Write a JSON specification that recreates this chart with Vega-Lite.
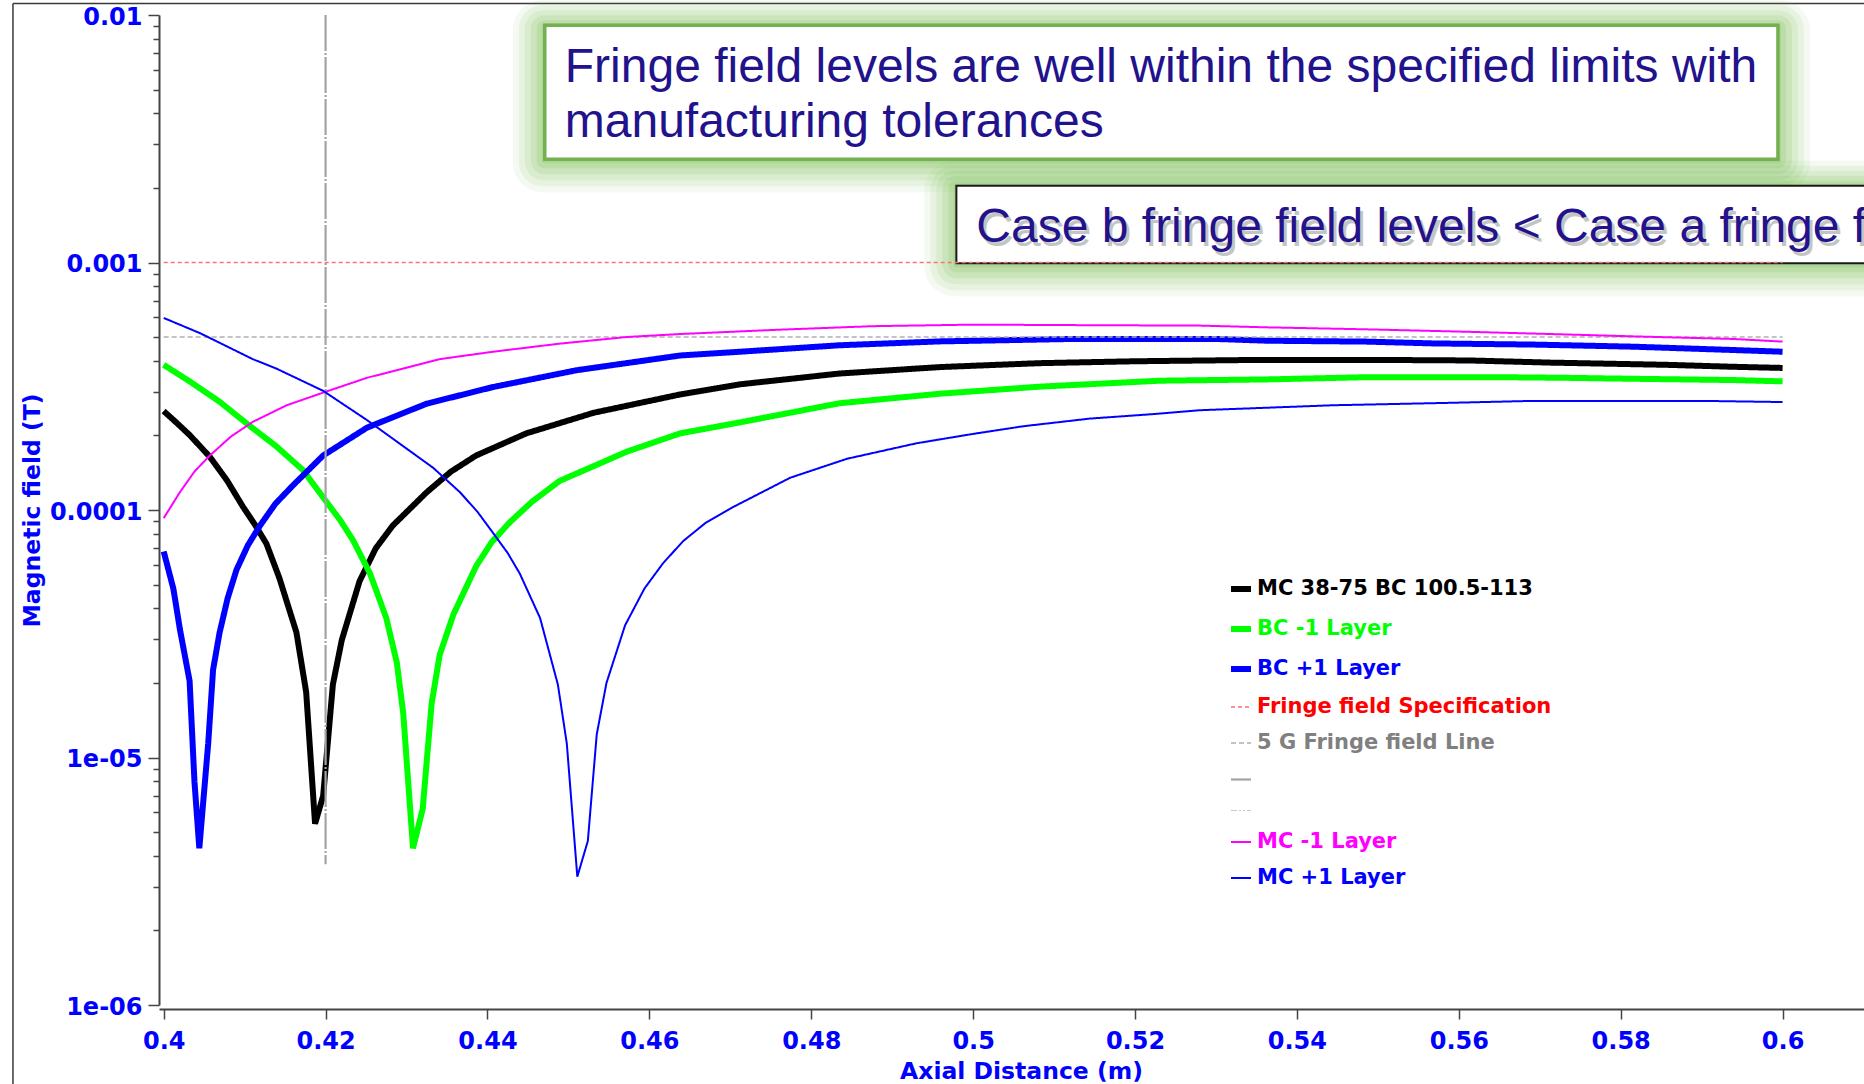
{
  "$schema": "https://vega.github.io/schema/vega-lite/v6.json",
  "width": 1705,
  "height": 990,
  "padding": {"left": 159, "top": 15, "right": 0, "bottom": 79},
  "autosize": {"type": "none"},
  "background": "white",
  "config": {"view": {"stroke": null}, "font": "DejaVu Sans"},
  "datasets": {
    "frame": [
      {"x": 0.38138, "y": 0.011119, "x2": 0.38138, "y2": 4.8e-7},
      {"x": 0.38138, "y": 0.011119, "x2": 0.62, "y2": 0.011119}
    ],
    "boxes": [
      {"box": "a", "x": 0.44708, "x2": 0.59943, "y": 0.009085, "y2": 0.002615},
      {"box": "b", "x": 0.49793, "x2": 0.62, "y": 0.00204, "y2": 0.000992}
    ],
    "notes": [
      {"box": "a", "text": "Fringe field levels are well within the specified limits with", "x": 0.44955, "y": 0.005364},
      {"box": "a", "text": "manufacturing tolerances", "x": 0.44955, "y": 0.003209},
      {"box": "b", "text": "Case b fringe field levels < Case a fringe field levels", "x": 0.5004, "y": 0.001212}
    ],
    "curves": [
      {"s": "MC 38-75 BC 100.5-113", "x": 0.4, "y": 2.51e-4},
      {"s": "MC 38-75 BC 100.5-113", "x": 0.4016, "y": 2.25e-4},
      {"s": "MC 38-75 BC 100.5-113", "x": 0.4032, "y": 2.01e-4},
      {"s": "MC 38-75 BC 100.5-113", "x": 0.4057, "y": 1.64e-4},
      {"s": "MC 38-75 BC 100.5-113", "x": 0.4078, "y": 1.32e-4},
      {"s": "MC 38-75 BC 100.5-113", "x": 0.4098, "y": 1.03e-4},
      {"s": "MC 38-75 BC 100.5-113", "x": 0.4113, "y": 8.7e-5},
      {"s": "MC 38-75 BC 100.5-113", "x": 0.4127, "y": 7.3e-5},
      {"s": "MC 38-75 BC 100.5-113", "x": 0.4143, "y": 5.3e-5},
      {"s": "MC 38-75 BC 100.5-113", "x": 0.4164, "y": 3.2e-5},
      {"s": "MC 38-75 BC 100.5-113", "x": 0.4176, "y": 1.84e-5},
      {"s": "MC 38-75 BC 100.5-113", "x": 0.4187, "y": 5.4e-6},
      {"s": "MC 38-75 BC 100.5-113", "x": 0.4197, "y": 7.0e-6},
      {"s": "MC 38-75 BC 100.5-113", "x": 0.4209, "y": 1.97e-5},
      {"s": "MC 38-75 BC 100.5-113", "x": 0.422, "y": 2.98e-5},
      {"s": "MC 38-75 BC 100.5-113", "x": 0.4242, "y": 5.16e-5},
      {"s": "MC 38-75 BC 100.5-113", "x": 0.4262, "y": 7.0e-5},
      {"s": "MC 38-75 BC 100.5-113", "x": 0.4283, "y": 8.65e-5},
      {"s": "MC 38-75 BC 100.5-113", "x": 0.4325, "y": 1.18e-4},
      {"s": "MC 38-75 BC 100.5-113", "x": 0.4355, "y": 1.43e-4},
      {"s": "MC 38-75 BC 100.5-113", "x": 0.4386, "y": 1.66e-4},
      {"s": "MC 38-75 BC 100.5-113", "x": 0.4448, "y": 2.04e-4},
      {"s": "MC 38-75 BC 100.5-113", "x": 0.4531, "y": 2.47e-4},
      {"s": "MC 38-75 BC 100.5-113", "x": 0.4638, "y": 2.93e-4},
      {"s": "MC 38-75 BC 100.5-113", "x": 0.4712, "y": 3.22e-4},
      {"s": "MC 38-75 BC 100.5-113", "x": 0.4835, "y": 3.56e-4},
      {"s": "MC 38-75 BC 100.5-113", "x": 0.4959, "y": 3.78e-4},
      {"s": "MC 38-75 BC 100.5-113", "x": 0.5082, "y": 3.92e-4},
      {"s": "MC 38-75 BC 100.5-113", "x": 0.52, "y": 3.99e-4},
      {"s": "MC 38-75 BC 100.5-113", "x": 0.535, "y": 4.04e-4},
      {"s": "MC 38-75 BC 100.5-113", "x": 0.55, "y": 4.04e-4},
      {"s": "MC 38-75 BC 100.5-113", "x": 0.5613, "y": 4.02e-4},
      {"s": "MC 38-75 BC 100.5-113", "x": 0.5713, "y": 3.94e-4},
      {"s": "MC 38-75 BC 100.5-113", "x": 0.5857, "y": 3.86e-4},
      {"s": "MC 38-75 BC 100.5-113", "x": 0.5939, "y": 3.79e-4},
      {"s": "MC 38-75 BC 100.5-113", "x": 0.6, "y": 3.75e-4},
      {"s": "BC -1 Layer", "x": 0.4, "y": 3.86e-4},
      {"s": "BC -1 Layer", "x": 0.4032, "y": 3.31e-4},
      {"s": "BC -1 Layer", "x": 0.4069, "y": 2.74e-4},
      {"s": "BC -1 Layer", "x": 0.4106, "y": 2.19e-4},
      {"s": "BC -1 Layer", "x": 0.4139, "y": 1.81e-4},
      {"s": "BC -1 Layer", "x": 0.4172, "y": 1.45e-4},
      {"s": "BC -1 Layer", "x": 0.4201, "y": 1.08e-4},
      {"s": "BC -1 Layer", "x": 0.4218, "y": 9.1e-5},
      {"s": "BC -1 Layer", "x": 0.4234, "y": 7.54e-5},
      {"s": "BC -1 Layer", "x": 0.4255, "y": 5.53e-5},
      {"s": "BC -1 Layer", "x": 0.4275, "y": 3.66e-5},
      {"s": "BC -1 Layer", "x": 0.4288, "y": 2.42e-5},
      {"s": "BC -1 Layer", "x": 0.4296, "y": 1.5e-5},
      {"s": "BC -1 Layer", "x": 0.4308, "y": 4.3e-6},
      {"s": "BC -1 Layer", "x": 0.432, "y": 6.2e-6},
      {"s": "BC -1 Layer", "x": 0.4331, "y": 1.65e-5},
      {"s": "BC -1 Layer", "x": 0.4341, "y": 2.6e-5},
      {"s": "BC -1 Layer", "x": 0.4358, "y": 3.79e-5},
      {"s": "BC -1 Layer", "x": 0.4386, "y": 5.93e-5},
      {"s": "BC -1 Layer", "x": 0.4405, "y": 7.4e-5},
      {"s": "BC -1 Layer", "x": 0.4428, "y": 8.95e-5},
      {"s": "BC -1 Layer", "x": 0.4455, "y": 1.08e-4},
      {"s": "BC -1 Layer", "x": 0.4489, "y": 1.31e-4},
      {"s": "BC -1 Layer", "x": 0.4572, "y": 1.72e-4},
      {"s": "BC -1 Layer", "x": 0.4638, "y": 2.04e-4},
      {"s": "BC -1 Layer", "x": 0.4712, "y": 2.26e-4},
      {"s": "BC -1 Layer", "x": 0.4835, "y": 2.7e-4},
      {"s": "BC -1 Layer", "x": 0.4959, "y": 2.95e-4},
      {"s": "BC -1 Layer", "x": 0.5082, "y": 3.15e-4},
      {"s": "BC -1 Layer", "x": 0.5231, "y": 3.33e-4},
      {"s": "BC -1 Layer", "x": 0.5363, "y": 3.37e-4},
      {"s": "BC -1 Layer", "x": 0.5486, "y": 3.44e-4},
      {"s": "BC -1 Layer", "x": 0.5651, "y": 3.44e-4},
      {"s": "BC -1 Layer", "x": 0.5733, "y": 3.42e-4},
      {"s": "BC -1 Layer", "x": 0.5815, "y": 3.39e-4},
      {"s": "BC -1 Layer", "x": 0.5939, "y": 3.35e-4},
      {"s": "BC -1 Layer", "x": 0.6, "y": 3.31e-4},
      {"s": "BC +1 Layer", "x": 0.4, "y": 6.8e-5},
      {"s": "BC +1 Layer", "x": 0.4012, "y": 4.8e-5},
      {"s": "BC +1 Layer", "x": 0.402, "y": 3.3e-5},
      {"s": "BC +1 Layer", "x": 0.4032, "y": 2.04e-5},
      {"s": "BC +1 Layer", "x": 0.4038, "y": 8.0e-6},
      {"s": "BC +1 Layer", "x": 0.4044, "y": 4.3e-6},
      {"s": "BC +1 Layer", "x": 0.4051, "y": 8.0e-6},
      {"s": "BC +1 Layer", "x": 0.4055, "y": 1.14e-5},
      {"s": "BC +1 Layer", "x": 0.4061, "y": 2.26e-5},
      {"s": "BC +1 Layer", "x": 0.4069, "y": 3.19e-5},
      {"s": "BC +1 Layer", "x": 0.4079, "y": 4.4e-5},
      {"s": "BC +1 Layer", "x": 0.409, "y": 5.74e-5},
      {"s": "BC +1 Layer", "x": 0.4104, "y": 7.2e-5},
      {"s": "BC +1 Layer", "x": 0.4119, "y": 8.65e-5},
      {"s": "BC +1 Layer", "x": 0.4138, "y": 1.06e-4},
      {"s": "BC +1 Layer", "x": 0.416, "y": 1.26e-4},
      {"s": "BC +1 Layer", "x": 0.4197, "y": 1.66e-4},
      {"s": "BC +1 Layer", "x": 0.4251, "y": 2.15e-4},
      {"s": "BC +1 Layer", "x": 0.4325, "y": 2.69e-4},
      {"s": "BC +1 Layer", "x": 0.4407, "y": 3.14e-4},
      {"s": "BC +1 Layer", "x": 0.451, "y": 3.67e-4},
      {"s": "BC +1 Layer", "x": 0.4638, "y": 4.21e-4},
      {"s": "BC +1 Layer", "x": 0.4712, "y": 4.36e-4},
      {"s": "BC +1 Layer", "x": 0.4835, "y": 4.63e-4},
      {"s": "BC +1 Layer", "x": 0.4959, "y": 4.8e-4},
      {"s": "BC +1 Layer", "x": 0.5123, "y": 4.91e-4},
      {"s": "BC +1 Layer", "x": 0.53, "y": 4.91e-4},
      {"s": "BC +1 Layer", "x": 0.5363, "y": 4.83e-4},
      {"s": "BC +1 Layer", "x": 0.5486, "y": 4.79e-4},
      {"s": "BC +1 Layer", "x": 0.5569, "y": 4.71e-4},
      {"s": "BC +1 Layer", "x": 0.5692, "y": 4.66e-4},
      {"s": "BC +1 Layer", "x": 0.5815, "y": 4.57e-4},
      {"s": "BC +1 Layer", "x": 0.5939, "y": 4.43e-4},
      {"s": "BC +1 Layer", "x": 0.6, "y": 4.36e-4},
      {"s": "Fringe field Specification", "x": 0.4, "y": 0.001},
      {"s": "Fringe field Specification", "x": 0.6, "y": 0.001},
      {"s": "5 G Fringe field Line", "x": 0.4, "y": 5e-4},
      {"s": "5 G Fringe field Line", "x": 0.6, "y": 5e-4},
      {"s": "Marker 0.42 m", "x": 0.42, "y": 0.01},
      {"s": "Marker 0.42 m", "x": 0.42, "y": 3.7e-6},
      {"s": "MC -1 Layer", "x": 0.4, "y": 9.27e-5},
      {"s": "MC -1 Layer", "x": 0.402, "y": 1.18e-4},
      {"s": "MC -1 Layer", "x": 0.4038, "y": 1.43e-4},
      {"s": "MC -1 Layer", "x": 0.4057, "y": 1.66e-4},
      {"s": "MC -1 Layer", "x": 0.4083, "y": 1.98e-4},
      {"s": "MC -1 Layer", "x": 0.411, "y": 2.27e-4},
      {"s": "MC -1 Layer", "x": 0.4152, "y": 2.65e-4},
      {"s": "MC -1 Layer", "x": 0.4197, "y": 2.98e-4},
      {"s": "MC -1 Layer", "x": 0.4251, "y": 3.42e-4},
      {"s": "MC -1 Layer", "x": 0.4341, "y": 4.07e-4},
      {"s": "MC -1 Layer", "x": 0.4407, "y": 4.36e-4},
      {"s": "MC -1 Layer", "x": 0.4489, "y": 4.7e-4},
      {"s": "MC -1 Layer", "x": 0.4572, "y": 5.0e-4},
      {"s": "MC -1 Layer", "x": 0.4638, "y": 5.14e-4},
      {"s": "MC -1 Layer", "x": 0.4753, "y": 5.34e-4},
      {"s": "MC -1 Layer", "x": 0.4876, "y": 5.53e-4},
      {"s": "MC -1 Layer", "x": 0.5, "y": 5.61e-4},
      {"s": "MC -1 Layer", "x": 0.5148, "y": 5.58e-4},
      {"s": "MC -1 Layer", "x": 0.528, "y": 5.56e-4},
      {"s": "MC -1 Layer", "x": 0.5363, "y": 5.47e-4},
      {"s": "MC -1 Layer", "x": 0.5486, "y": 5.37e-4},
      {"s": "MC -1 Layer", "x": 0.561, "y": 5.25e-4},
      {"s": "MC -1 Layer", "x": 0.5733, "y": 5.12e-4},
      {"s": "MC -1 Layer", "x": 0.5815, "y": 5.03e-4},
      {"s": "MC -1 Layer", "x": 0.5939, "y": 4.91e-4},
      {"s": "MC -1 Layer", "x": 0.6, "y": 4.79e-4},
      {"s": "MC +1 Layer", "x": 0.4, "y": 5.97e-4},
      {"s": "MC +1 Layer", "x": 0.4045, "y": 5.18e-4},
      {"s": "MC +1 Layer", "x": 0.411, "y": 4.07e-4},
      {"s": "MC +1 Layer", "x": 0.4139, "y": 3.73e-4},
      {"s": "MC +1 Layer", "x": 0.4197, "y": 3.03e-4},
      {"s": "MC +1 Layer", "x": 0.4251, "y": 2.31e-4},
      {"s": "MC +1 Layer", "x": 0.4296, "y": 1.81e-4},
      {"s": "MC +1 Layer", "x": 0.4333, "y": 1.48e-4},
      {"s": "MC +1 Layer", "x": 0.4366, "y": 1.18e-4},
      {"s": "MC +1 Layer", "x": 0.4388, "y": 9.8e-5},
      {"s": "MC +1 Layer", "x": 0.4407, "y": 8.07e-5},
      {"s": "MC +1 Layer", "x": 0.4425, "y": 6.7e-5},
      {"s": "MC +1 Layer", "x": 0.444, "y": 5.53e-5},
      {"s": "MC +1 Layer", "x": 0.4465, "y": 3.66e-5},
      {"s": "MC +1 Layer", "x": 0.4487, "y": 1.97e-5},
      {"s": "MC +1 Layer", "x": 0.4498, "y": 1.14e-5},
      {"s": "MC +1 Layer", "x": 0.4511, "y": 3.3e-6},
      {"s": "MC +1 Layer", "x": 0.4524, "y": 4.6e-6},
      {"s": "MC +1 Layer", "x": 0.4535, "y": 1.24e-5},
      {"s": "MC +1 Layer", "x": 0.4547, "y": 2.0e-5},
      {"s": "MC +1 Layer", "x": 0.457, "y": 3.42e-5},
      {"s": "MC +1 Layer", "x": 0.4594, "y": 4.82e-5},
      {"s": "MC +1 Layer", "x": 0.4617, "y": 6.1e-5},
      {"s": "MC +1 Layer", "x": 0.4642, "y": 7.5e-5},
      {"s": "MC +1 Layer", "x": 0.467, "y": 8.9e-5},
      {"s": "MC +1 Layer", "x": 0.4704, "y": 1.03e-4},
      {"s": "MC +1 Layer", "x": 0.4774, "y": 1.35e-4},
      {"s": "MC +1 Layer", "x": 0.4844, "y": 1.61e-4},
      {"s": "MC +1 Layer", "x": 0.493, "y": 1.86e-4},
      {"s": "MC +1 Layer", "x": 0.5, "y": 2.03e-4},
      {"s": "MC +1 Layer", "x": 0.5062, "y": 2.18e-4},
      {"s": "MC +1 Layer", "x": 0.5144, "y": 2.34e-4},
      {"s": "MC +1 Layer", "x": 0.5222, "y": 2.44e-4},
      {"s": "MC +1 Layer", "x": 0.528, "y": 2.53e-4},
      {"s": "MC +1 Layer", "x": 0.5445, "y": 2.65e-4},
      {"s": "MC +1 Layer", "x": 0.5589, "y": 2.71e-4},
      {"s": "MC +1 Layer", "x": 0.5692, "y": 2.76e-4},
      {"s": "MC +1 Layer", "x": 0.59, "y": 2.76e-4},
      {"s": "MC +1 Layer", "x": 0.6, "y": 2.73e-4}
    ]
  },
  "encoding": {
    "x": {
      "field": "x",
      "type": "quantitative",
      "title": "Axial Distance (m)",
      "scale": {"domain": [0.39942, 0.61006], "nice": false, "zero": false},
      "axis": {
        "values": [0.4, 0.42, 0.44, 0.46, 0.48, 0.5, 0.52, 0.54, 0.56, 0.58, 0.6],
        "format": "~g",
        "offset": 4,
        "grid": false,
        "tickSize": 10,
        "tickColor": "#444444",
        "tickWidth": 1.5,
        "domainColor": "#444444",
        "domainWidth": 2,
        "labelFont": "DejaVu Sans",
        "labelFontWeight": "bold",
        "labelFontSize": 24,
        "labelColor": "#0000ff",
        "labelBaseline": "alphabetic",
        "labelPadding": 29,
        "labelFlush": false,
        "labelOverlap": false,
        "titleFont": "DejaVu Sans",
        "titleFontWeight": "bold",
        "titleFontSize": 23.5,
        "titleColor": "#0000ff",
        "titleX": 862,
        "titleY": 69,
        "titleBaseline": "alphabetic",
        "titleAlign": "center"
      }
    },
    "y": {
      "field": "y",
      "type": "quantitative",
      "title": "Magnetic field (T)",
      "scale": {"type": "log", "domain": [1e-6, 0.01], "nice": false},
      "axis": {
        "values": [1e-6, 2e-6, 3e-6, 4e-6, 5e-6, 6e-6, 7e-6, 8e-6, 9e-6, 1e-5, 2e-5, 3e-5, 4e-5, 5e-5, 6e-5, 7e-5, 8e-5, 9e-5, 1e-4, 2e-4, 3e-4, 4e-4, 5e-4, 6e-4, 7e-4, 8e-4, 9e-4, 0.001, 0.002, 0.003, 0.004, 0.005, 0.006, 0.007, 0.008, 0.009, 0.01],
        "labelExpr": "datum.value === 0.01 ? '0.01' : datum.value === 0.001 ? '0.001' : datum.value === 0.0001 ? '0.0001' : datum.value === 0.00001 ? '1e-05' : datum.value === 0.000001 ? '1e-06' : ''",
        "tickSize": {"condition": {"test": "datum.value === 0.01 || datum.value === 0.001 || datum.value === 0.0001 || datum.value === 0.00001 || datum.value === 0.000001", "value": 11}, "value": 6},
        "grid": false,
        "tickColor": "#444444",
        "tickWidth": 1.5,
        "domainColor": "#444444",
        "domainWidth": 2,
        "labelFont": "DejaVu Sans",
        "labelFontWeight": "bold",
        "labelFontSize": 24,
        "labelColor": "#0000ff",
        "labelPadding": 6,
        "labelOffset": 2,
        "labelFlush": false,
        "labelOverlap": false,
        "titleFont": "DejaVu Sans",
        "titleFontWeight": "bold",
        "titleFontSize": 23.5,
        "titleColor": "#0000ff",
        "titleX": -127,
        "titleY": 495,
        "titleAngle": 270,
        "titleBaseline": "middle",
        "titleAlign": "center"
      }
    }
  },
  "layer": [
    {
      "data": {"name": "frame"},
      "mark": {"type": "rule", "color": "#3a3a3a", "strokeWidth": 1.5, "clip": false},
      "encoding": {"x2": {"field": "x2"}, "y2": {"field": "y2"}}
    },
    {
      "data": {"name": "boxes"},
      "mark": {"type": "rect", "fill": "#78bd52", "opacity": 0.08, "cornerRadius": 30, "xOffset": -32, "x2Offset": 32, "yOffset": -25, "y2Offset": 33, "clip": false},
      "encoding": {"x2": {"field": "x2"}, "y2": {"field": "y2"}}
    },
    {
      "data": {"name": "boxes"},
      "mark": {"type": "rect", "fill": "#78bd52", "opacity": 0.1, "cornerRadius": 24, "xOffset": -26, "x2Offset": 26, "yOffset": -20, "y2Offset": 27, "clip": false},
      "encoding": {"x2": {"field": "x2"}, "y2": {"field": "y2"}}
    },
    {
      "data": {"name": "boxes"},
      "mark": {"type": "rect", "fill": "#78bd52", "opacity": 0.12, "cornerRadius": 19, "xOffset": -20, "x2Offset": 20, "yOffset": -15, "y2Offset": 21, "clip": false},
      "encoding": {"x2": {"field": "x2"}, "y2": {"field": "y2"}}
    },
    {
      "data": {"name": "boxes"},
      "mark": {"type": "rect", "fill": "#78bd52", "opacity": 0.15, "cornerRadius": 14, "xOffset": -14, "x2Offset": 14, "yOffset": -10, "y2Offset": 15, "clip": false},
      "encoding": {"x2": {"field": "x2"}, "y2": {"field": "y2"}}
    },
    {
      "data": {"name": "boxes"},
      "mark": {"type": "rect", "fill": "#78bd52", "opacity": 0.18, "cornerRadius": 8, "xOffset": -8, "x2Offset": 8, "yOffset": -5, "y2Offset": 9, "clip": false},
      "encoding": {"x2": {"field": "x2"}, "y2": {"field": "y2"}}
    },
    {
      "data": {"name": "boxes"},
      "mark": {"type": "rect", "fill": "#78bd52", "opacity": 0.22, "cornerRadius": 3, "xOffset": -3, "x2Offset": 3, "yOffset": -2, "y2Offset": 4, "clip": false},
      "encoding": {"x2": {"field": "x2"}, "y2": {"field": "y2"}}
    },
    {
      "data": {"name": "boxes"},
      "mark": {"type": "rect", "fill": "white", "clip": false},
      "encoding": {
        "x2": {"field": "x2"},
        "y2": {"field": "y2"},
        "stroke": {"condition": {"test": "datum.box === 'a'", "value": "#74b04e"}, "value": "#1a1a1a"},
        "strokeWidth": {"condition": {"test": "datum.box === 'a'", "value": 3.5}, "value": 2}
      }
    },
    {
      "data": {"name": "notes"},
      "transform": [{"filter": "datum.box === 'b'"}],
      "mark": {"type": "text", "align": "left", "baseline": "alphabetic", "font": "Liberation Sans", "fontSize": 48, "color": "#8a8a8a", "opacity": 0.5, "dx": 3, "dy": 4, "clip": false},
      "encoding": {"text": {"field": "text"}}
    },
    {
      "data": {"name": "notes"},
      "mark": {"type": "text", "align": "left", "baseline": "alphabetic", "font": "Liberation Sans", "fontSize": 48, "color": "#22138c", "clip": false},
      "encoding": {"text": {"field": "text"}}
    },
    {
      "data": {"name": "curves"},
      "mark": {"type": "line", "strokeJoin": "bevel", "strokeCap": "butt", "clip": false},
      "encoding": {
        "color": {
          "field": "s",
          "type": "nominal",
          "scale": {
            "domain": ["MC 38-75 BC 100.5-113", "BC -1 Layer", "BC +1 Layer", "Fringe field Specification", "5 G Fringe field Line", "Marker 0.42 m", "Unused", "MC -1 Layer", "MC +1 Layer"],
            "range": ["#000000", "#00ff00", "#0000ff", "#ff7070", "#b0b0b0", "#a4a4a4", "#c8c8c8", "#ff00ff", "#0000ff"]
          },
          "legend": {
            "title": null,
            "orient": "none",
            "legendX": 1069,
            "legendY": 561,
            "symbolType": "stroke",
            "symbolSize": 400,
            "labelFont": "DejaVu Sans",
            "labelFontWeight": "bold",
            "labelFontSize": 21,
            "labelLimit": 0,
            "labelOffset": 3,
            "rowPadding": 15,
            "labelExpr": "datum.value === 'Marker 0.42 m' || datum.value === 'Unused' ? '' : datum.label",
            "encode": {
              "labels": {
                "update": {
                  "fontSize": {"signal": "datum.value === 'Marker 0.42 m' || datum.value === 'Unused' ? 11 : 21"},
                  "fill": {"signal": "datum.value === 'MC 38-75 BC 100.5-113' ? '#000000' : datum.value === 'BC -1 Layer' ? '#00ff00' : datum.value === 'BC +1 Layer' ? '#0000ff' : datum.value === 'Fringe field Specification' ? '#ff0000' : datum.value === '5 G Fringe field Line' ? '#808080' : datum.value === 'MC -1 Layer' ? '#ff00ff' : '#0000ff'"}
                }
              }
            }
          }
        },
        "strokeWidth": {
          "field": "s",
          "type": "nominal",
          "scale": {
            "type": "ordinal",
            "domain": ["MC 38-75 BC 100.5-113", "BC -1 Layer", "BC +1 Layer", "Fringe field Specification", "5 G Fringe field Line", "Marker 0.42 m", "Unused", "MC -1 Layer", "MC +1 Layer"],
            "range": [6, 6, 6, 1.5, 1.6, 2.2, 1, 2, 2]
          }
        },
        "strokeDash": {
          "field": "s",
          "type": "nominal",
          "scale": {
            "domain": ["MC 38-75 BC 100.5-113", "BC -1 Layer", "BC +1 Layer", "Fringe field Specification", "5 G Fringe field Line", "Marker 0.42 m", "Unused", "MC -1 Layer", "MC +1 Layer"],
            "range": [[1, 0], [1, 0], [1, 0], [4, 3], [5, 3], [36, 2, 2, 2], [6, 2, 2, 2, 2, 2], [1, 0], [1, 0]]
          }
        }
      }
    }
  ]
}
